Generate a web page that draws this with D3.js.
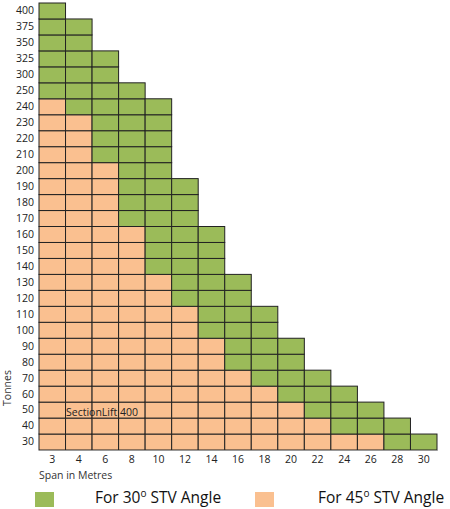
<!DOCTYPE html>
<html>
<head>
<meta charset="utf-8">
<script src="https://cdn.jsdelivr.net/npm/d3@7"></script>
<style>
  body { margin: 0; background: #fff; }
  svg { display: block; font-family: "Open Sans", "Liberation Sans", sans-serif; }
</style>
</head>
<body>
<svg id="chart" width="450" height="509"></svg>
<script>
// spans (metres) and tonnage rows
const spans = [3, 4, 6, 8, 10, 12, 14, 16, 18, 20, 22, 24, 26, 28, 30];
const tonnes = [30, 40, 50, 60, 70, 80, 90, 100, 110, 120, 130, 140, 150, 160, 170,
  180, 190, 200, 210, 220, 230, 240, 250, 300, 325, 350, 375, 400];
// max capacity per span
const max30 = [400, 375, 325, 250, 240, 190, 160, 130, 110, 90, 70, 60, 50, 40, 30];
const max45 = [240, 230, 200, 160, 130, 110, 90, 70, 60, 50, 40, 30, 30, 0, 0];

const legendItems = ["30", "45"];
const colors = { "30": "#9bbb59", "45": "#fac090" };

const svg = d3.select("#chart");

const x = d3.scaleBand()
  .domain(spans)
  .range([39, 437]);

const y = d3.scaleBand()
  .domain(tonnes.slice().reverse())
  .range([3, 450]);

// build cells
const cells = [];
spans.forEach((s, i) => {
  tonnes.forEach(t => {
    if (t <= max30[i]) {
      cells.push({ span: s, tonne: t, angle: t <= max45[i] ? "45" : "30" });
    }
  });
});

svg.append("g")
  .selectAll("rect")
  .data(cells)
  .join("rect")
  .attr("x", d => x(d.span))
  .attr("y", d => y(d.tonne))
  .attr("width", x.bandwidth())
  .attr("height", y.bandwidth())
  .attr("fill", d => colors[d.angle])
  .attr("stroke", "#222")
  .attr("stroke-width", 1);

// y axis labels
const yAxis = svg.append("g")
  .attr("transform", "translate(34,0)")
  .call(d3.axisLeft(y).tickSize(0).tickPadding(0));
yAxis.select(".domain").remove();
yAxis.selectAll("text")
  .attr("font-size", 10.5)
  .attr("fill", "#222")
  .attr("font-family", "'Open Sans', sans-serif");

// x axis labels
const xAxis = svg.append("g")
  .attr("transform", "translate(0,450)")
  .call(d3.axisBottom(x).tickSize(0).tickPadding(6));
xAxis.select(".domain")
  .attr("stroke", "#999");
xAxis.selectAll("text")
  .attr("font-size", 10.5)
  .attr("fill", "#222")
  .attr("font-family", "'Open Sans', sans-serif");

svg.append("text")
  .attr("x", 39)
  .attr("y", 479)
  .attr("font-size", 10.5)
  .attr("fill", "#333")
  .text("Span in Metres");

svg.append("text")
  .attr("transform", "translate(11,388) rotate(-90)")
  .attr("text-anchor", "middle")
  .attr("font-size", 10.5)
  .attr("fill", "#333")
  .text("Tonnes");

svg.append("text")
  .attr("x", 66)
  .attr("y", 416)
  .attr("font-size", 10.5)
  .attr("fill", "#222")
  .text("SectionLift 400");

// legend
const legendX = [35, 255];
const legendTextX = [95, 318];
const legend = svg.append("g")
  .selectAll("g")
  .data(legendItems)
  .join("g");

legend.append("rect")
  .attr("x", (d, i) => legendX[i])
  .attr("y", 492)
  .attr("width", 19)
  .attr("height", 15)
  .attr("fill", d => colors[d]);

const lt = legend.append("text")
  .attr("x", (d, i) => legendTextX[i])
  .attr("y", 503)
  .attr("font-size", 15.5)
  .attr("fill", "#111");
lt.append("tspan").text(d => "For " + d);
lt.append("tspan")
  .attr("font-size", 10)
  .attr("dy", -6)
  .text("o");
lt.append("tspan")
  .attr("dy", 6)
  .text(" STV Angle");
</script>
</body>
</html>
